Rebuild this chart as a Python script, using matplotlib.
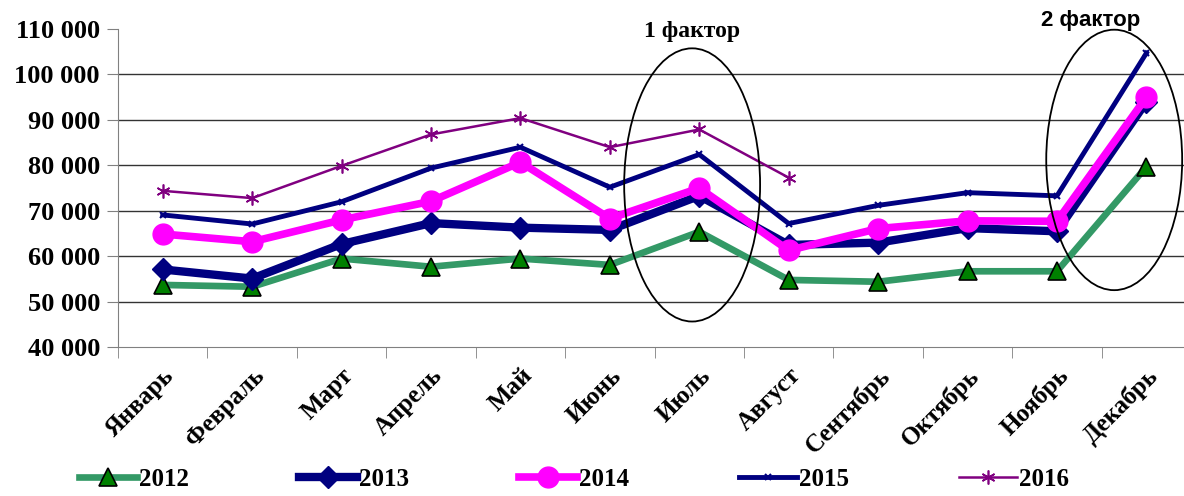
import matplotlib
matplotlib.use('Agg')
import matplotlib.pyplot as plt
from matplotlib.patches import Ellipse
from matplotlib.ticker import FuncFormatter

months = ['Январь', 'Февраль', 'Март', 'Апрель', 'Май', 'Июнь',
          'Июль', 'Август', 'Сентябрь', 'Октябрь', 'Ноябрь', 'Декабрь']
y2012 = [53700, 53300, 59500, 57700, 59500, 58100, 65400, 54800, 54400, 56700, 56700, 79700]
y2013 = [57100, 55100, 62700, 67300, 66300, 65800, 73300, 62500, 63000, 66200, 65500, 94000]
y2014 = [64900, 63200, 68000, 72100, 80700, 68300, 75000, 61300, 66100, 67800, 67700, 95000]
y2015 = [69100, 67100, 72000, 79400, 84000, 75200, 82400, 67200, 71200, 74000, 73300, 104700]
y2016 = [74400, 72800, 79900, 86800, 90400, 84000, 87900, 77300]

serif = 'Liberation Serif'
plt.rcParams['font.family'] = [serif, 'DejaVu Serif']
plt.rcParams['font.weight'] = 'bold'

fig = plt.figure(figsize=(11.84, 4.96), dpi=100)
ax = fig.add_axes([0.0997, 0.300, 0.9063, 0.6415])

x = list(range(12))
ax.plot(x, y2012, color='#339966', lw=4.8, marker='^', ms=13, mfc='#008000', mec='black', mew=1.2, label='2012', zorder=3)
ax.plot(x, y2013, color='#000080', lw=6, marker='D', ms=11, mfc='#000080', mec='#000080', label='2013', zorder=4)
ax.plot(x, y2014, color='#FF00FF', lw=5.5, marker='o', ms=15, mfc='#FF00FF', mec='#FF00FF', label='2014', zorder=5)
ax.plot(x, y2015, color='#000080', lw=3.5, marker='x', ms=5, mew=1.5, label='2015', zorder=6)
ax.plot(list(range(len(y2016))), y2016, color='#800080', lw=1.8, marker=(6, 2, 0), ms=10, mew=1.2, label='2016', zorder=7)

ax.set_xlim(-0.5, 11.5)
ax.set_ylim(40000, 110000)
ax.set_yticks(range(40000, 110001, 10000))
ax.yaxis.set_major_formatter(FuncFormatter(lambda v, p: '{:,}'.format(int(v)).replace(',', ' ')))
ax.set_xticks(x)
ax.set_xticklabels(months, rotation=45, ha='right', rotation_mode='anchor')
ax.set_xticks([i - 0.5 for i in range(13)], minor=True)
ax.tick_params(axis='x', which='major', length=0, pad=12, labelsize=18)
ax.tick_params(axis='x', which='minor', length=8, color='#808080')
ax.tick_params(axis='y', length=8, color='#808080', labelsize=19, pad=5)

ax.grid(axis='y', color='#333333', lw=1)
ax.yaxis.get_gridlines()[-1].set_visible(False)
ax.yaxis.get_gridlines()[0].set_visible(False)
for s in ['top', 'right']:
    ax.spines[s].set_visible(False)
for s in ['left', 'bottom']:
    ax.spines[s].set_color('#808080')

ax.add_patch(Ellipse((5.92, 75700), 1.52, 60100, fill=False, ec='black', lw=1.3, zorder=8, clip_on=False))
ax.add_patch(Ellipse((10.64, 81200), 1.52, 57300, fill=False, ec='black', lw=1.3, zorder=8, clip_on=False))
ax.text(5.92, 109400, '1 фактор', ha='center', va='center', fontsize=17, fontweight='bold')
ax.text(10.38, 111900, '2 фактор', ha='center', va='center', fontsize=16, fontweight='bold',
        family=['Liberation Sans', 'DejaVu Sans'])

fig.legend(loc='lower left', bbox_to_anchor=(0.048, -0.035), ncol=5, frameon=False,
           fontsize=18, handlelength=2.3, handletextpad=0.1, columnspacing=4.4, numpoints=1)

fig.savefig('out.png', dpi=100)
